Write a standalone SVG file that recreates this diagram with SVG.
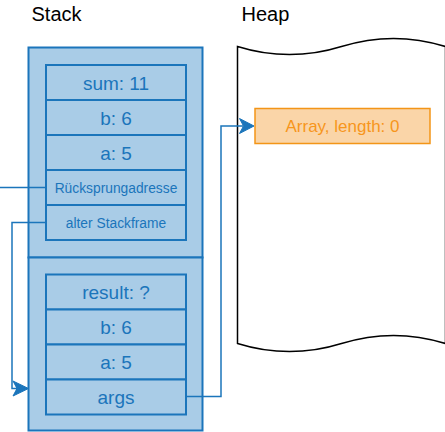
<svg xmlns="http://www.w3.org/2000/svg" width="445" height="432" viewBox="0 0 445 432">
<defs>
<style>
.title{font-family:"Liberation Sans",Arial,sans-serif;font-size:20px;fill:#000}
.frame{fill:#a9cce7;stroke:#1b75bb;stroke-width:2}
.cell{fill:#a9cce7;stroke:#1b75bb;stroke-width:2}
.t{font-family:"Liberation Sans",Arial,sans-serif;font-size:19px;fill:#1b75bb;text-anchor:middle}
.ts{font-family:"Liberation Sans",Arial,sans-serif;font-size:13.8px;fill:#1b75bb;text-anchor:middle}
.conn{fill:none;stroke:#1b75bb;stroke-width:1.5}
.head{fill:#1b75bb;stroke:#1b75bb;stroke-width:1}
</style>
</defs>
<rect width="445" height="432" fill="#fff"/>
<text class="title" x="31.5" y="20.5">Stack</text>
<text class="title" x="241.5" y="20.5">Heap</text>

<g id="heap">
<path d="M237.5 46.5 Q289.5 62.7 341.5 46.5 Q393.5 30.3 445.5 46.5 L445.5 343.5 Q393.5 327.3 341.5 343.5 Q289.5 359.7 237.5 343.5 Z" fill="#fff" stroke="#000" stroke-width="1.5"/>
</g>

<g id="frame1">
<rect class="frame" x="28.5" y="47.5" width="174" height="210"/>
</g>
<g id="frame2">
<rect class="frame" x="28.5" y="257.5" width="174" height="173"/>
</g>

<g id="sum"><rect class="cell" x="46" y="65" width="140" height="35"/><text class="t" x="116" y="89.5">sum: 11</text></g>
<g id="b1"><rect class="cell" x="46" y="100" width="140" height="35"/><text class="t" x="116" y="124.5">b: 6</text></g>
<g id="a1"><rect class="cell" x="46" y="135" width="140" height="35"/><text class="t" x="116" y="159.5">a: 5</text></g>
<g id="ruecksprung"><rect class="cell" x="46" y="170" width="140" height="35"/><text class="ts" x="116" y="192.5">Rücksprungadresse</text></g>
<g id="alter"><rect class="cell" x="46" y="205" width="140" height="35"/><text class="ts" x="116" y="227.5">alter Stackframe</text></g>

<g id="result"><rect class="cell" x="46" y="274.5" width="140" height="35"/><text class="t" x="116" y="299">result: ?</text></g>
<g id="b2"><rect class="cell" x="46" y="309.5" width="140" height="35"/><text class="t" x="116" y="334">b: 6</text></g>
<g id="a2"><rect class="cell" x="46" y="344.5" width="140" height="35"/><text class="t" x="116" y="369">a: 5</text></g>
<g id="args"><rect class="cell" x="46" y="379.5" width="140" height="35"/><text class="t" x="116" y="404">args</text></g>

<g id="array">
<rect x="255" y="108.5" width="175" height="35" fill="#fad5a8" stroke="#f39517" stroke-width="1.5"/>
<text x="342.5" y="132" font-family="'Liberation Sans',Arial,sans-serif" font-size="17" fill="#f7961c" text-anchor="middle">Array, length: 0</text>
</g>

<g id="connectors">
<path class="conn" d="M0 187.5 H46"/>
<path class="conn" d="M46 222.5 H12 V388.5 H18"/>
<polygon class="head" points="28.5,388.5 13,381 17,388.5 13,396"/>
<path class="conn" d="M186 396.5 H221 V126 H243"/>
<polygon class="head" points="254,126 239.5,118.5 243.5,126 239.5,133.5"/>
</g>
</svg>
